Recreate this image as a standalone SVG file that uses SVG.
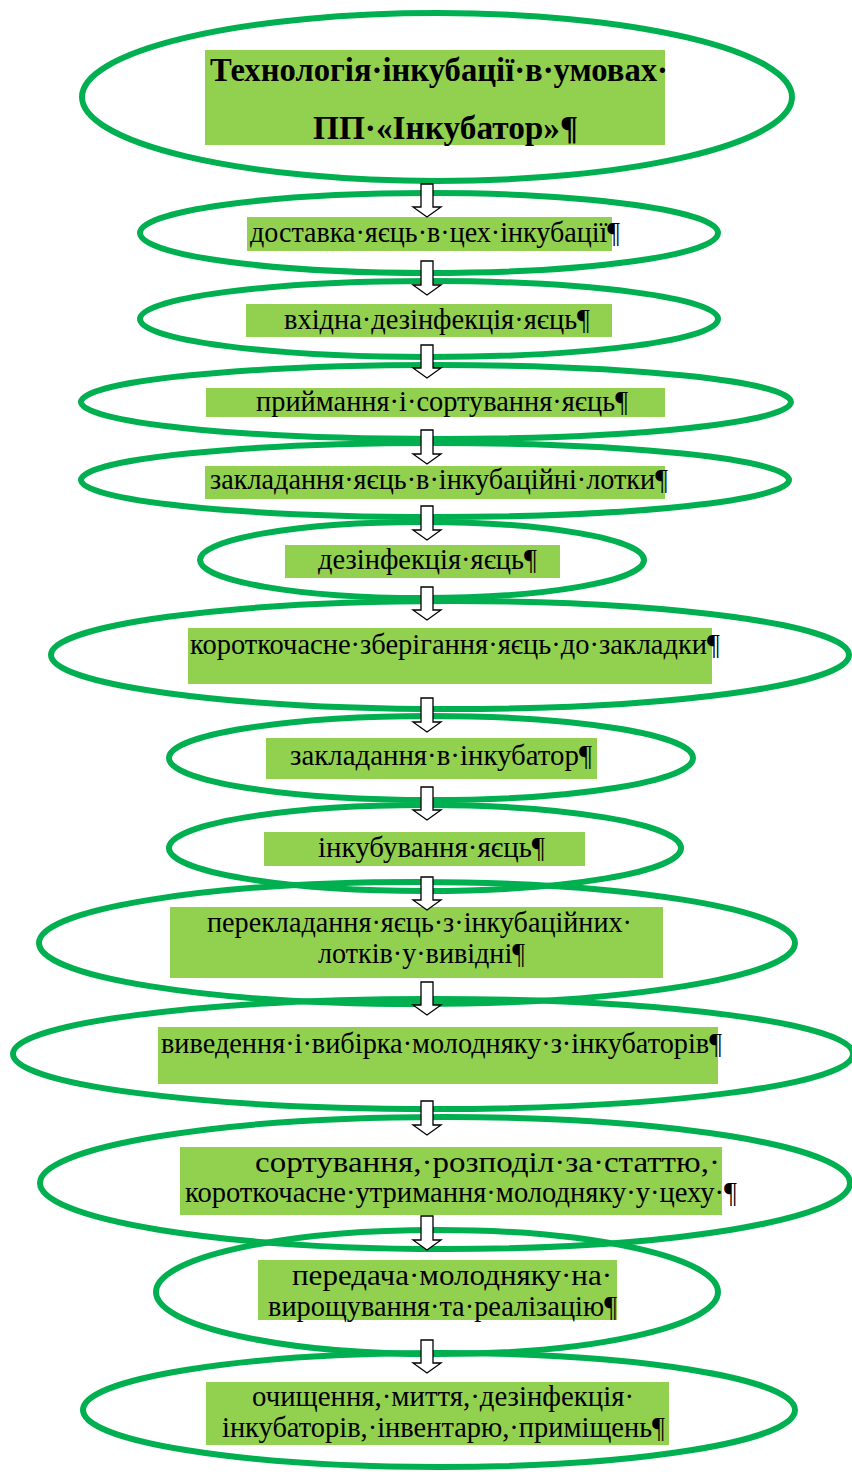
<svg xmlns="http://www.w3.org/2000/svg" width="852" height="1472" viewBox="0 0 852 1472">
<style>
.el{fill:none;stroke:#00B050;stroke-width:6}
.bx{fill:#92D050}
.t{font-family:"Liberation Serif","Times New Roman",serif;font-size:30px;fill:#000}
.tb{font-family:"Liberation Serif","Times New Roman",serif;font-size:34px;font-weight:bold;fill:#000}
.ar{fill:#fff;stroke:#000;stroke-width:1.3}
</style>
<rect width="852" height="1472" fill="#fff"/>
<g id="n1"><ellipse class="el" cx="437" cy="97" rx="355" ry="84"/><rect class="bx" x="205" y="50" width="460" height="95"/>
<text class="tb" x="210" y="81" textLength="458" lengthAdjust="spacingAndGlyphs">Технологія·інкубації·в·умовах·</text>
<text class="tb" x="313" y="139" textLength="265" lengthAdjust="spacingAndGlyphs">ПП·«Інкубатор»¶</text></g>
<g id="n2"><ellipse class="el" cx="429" cy="233" rx="289" ry="40"/><rect class="bx" x="247" y="217" width="365" height="34"/>
<text class="t" x="250" y="242" textLength="370" lengthAdjust="spacingAndGlyphs">доставка·яєць·в·цех·інкубації¶</text></g>
<g id="n3"><ellipse class="el" cx="429" cy="319" rx="289" ry="38"/><rect class="bx" x="246" y="304" width="366" height="33"/>
<text class="t" x="284" y="329" textLength="306" lengthAdjust="spacingAndGlyphs">вхідна·дезінфекція·яєць¶</text></g>
<g id="n4"><ellipse class="el" cx="436" cy="402" rx="355" ry="37"/><rect class="bx" x="206" y="388" width="459" height="29"/>
<text class="t" x="256" y="411" textLength="372" lengthAdjust="spacingAndGlyphs">приймання·і·сортування·яєць¶</text></g>
<g id="n5"><ellipse class="el" cx="435" cy="480" rx="354" ry="37"/><rect class="bx" x="205" y="466" width="460" height="33"/>
<text class="t" x="210" y="489" textLength="458" lengthAdjust="spacingAndGlyphs">закладання·яєць·в·інкубаційні·лотки¶</text></g>
<g id="n6"><ellipse class="el" cx="422" cy="560" rx="222" ry="38"/><rect class="bx" x="285" y="545" width="275" height="33"/>
<text class="t" x="318" y="569" textLength="219" lengthAdjust="spacingAndGlyphs">дезінфекція·яєць¶</text></g>
<g id="n7"><ellipse class="el" cx="450" cy="655" rx="399" ry="54"/><rect class="bx" x="188" y="628" width="524" height="56"/>
<text class="t" x="190" y="654" textLength="530" lengthAdjust="spacingAndGlyphs">короткочасне·зберігання·яєць·до·закладки¶</text></g>
<g id="n8"><ellipse class="el" cx="431" cy="758" rx="262" ry="42"/><rect class="bx" x="266" y="738" width="331" height="41"/>
<text class="t" x="290" y="765" textLength="302" lengthAdjust="spacingAndGlyphs">закладання·в·інкубатор¶</text></g>
<g id="n9"><ellipse class="el" cx="425" cy="848" rx="256" ry="43"/><rect class="bx" x="264" y="832" width="321" height="34"/>
<text class="t" x="318" y="857" textLength="227" lengthAdjust="spacingAndGlyphs">інкубування·яєць¶</text></g>
<g id="n10"><ellipse class="el" cx="417" cy="943" rx="378" ry="61"/><rect class="bx" x="170" y="907" width="493" height="71"/>
<text class="t" x="207" y="932" textLength="425" lengthAdjust="spacingAndGlyphs">перекладання·яєць·з·інкубаційних·</text>
<text class="t" x="318" y="963" textLength="207" lengthAdjust="spacingAndGlyphs">лотків·у·вивідні¶</text></g>
<g id="n11"><ellipse class="el" cx="433" cy="1054" rx="420" ry="55"/><rect class="bx" x="158" y="1027" width="560" height="57"/>
<text class="t" x="161" y="1053" textLength="561" lengthAdjust="spacingAndGlyphs">виведення·і·вибірка·молодняку·з·інкубаторів¶</text></g>
<g id="n12"><ellipse class="el" cx="445" cy="1183" rx="405" ry="66"/><rect class="bx" x="180" y="1147" width="542" height="68"/>
<text class="t" x="255" y="1172" textLength="465" lengthAdjust="spacingAndGlyphs">сортування,·розподіл·за·статтю,·</text>
<text class="t" x="185" y="1202" textLength="552" lengthAdjust="spacingAndGlyphs">короткочасне·утримання·молодняку·у·цеху·¶</text></g>
<g id="n13"><ellipse class="el" cx="437" cy="1292" rx="281" ry="62"/><rect class="bx" x="258" y="1260" width="359" height="60"/>
<text class="t" x="292" y="1285" textLength="320" lengthAdjust="spacingAndGlyphs">передача·молодняку·на·</text>
<text class="t" x="268" y="1316" textLength="349" lengthAdjust="spacingAndGlyphs">вирощування·та·реалізацію¶</text></g>
<g id="n14"><ellipse class="el" cx="439" cy="1410" rx="356" ry="57"/><rect class="bx" x="206" y="1382" width="463" height="63"/>
<text class="t" x="252" y="1406" textLength="382" lengthAdjust="spacingAndGlyphs">очищення,·миття,·дезінфекція·</text>
<text class="t" x="222" y="1437" textLength="443" lengthAdjust="spacingAndGlyphs">інкубаторів,·інвентарю,·приміщень¶</text></g>
<g id="connectors">
<path class="ar" d="M421,184H433V207H441L427,217L413,207H421Z"/>
<path class="ar" d="M421,261H433V285H441L427,295L413,285H421Z"/>
<path class="ar" d="M421,345H433V368H441L427,378L413,368H421Z"/>
<path class="ar" d="M421,430H433V454H441L427,464L413,454H421Z"/>
<path class="ar" d="M421,506H433V530H441L427,540L413,530H421Z"/>
<path class="ar" d="M421,587H433V610H441L427,620L413,610H421Z"/>
<path class="ar" d="M421,698H433V722H441L427,732L413,722H421Z"/>
<path class="ar" d="M421,787H433V810H441L427,820L413,810H421Z"/>
<path class="ar" d="M421,877H433V900H441L427,910L413,900H421Z"/>
<path class="ar" d="M421,982H433V1005H441L427,1015L413,1005H421Z"/>
<path class="ar" d="M421,1101H433V1125H441L427,1135L413,1125H421Z"/>
<path class="ar" d="M421,1216H433V1240H441L427,1250L413,1240H421Z"/>
<path class="ar" d="M421,1340H433V1363H441L427,1373L413,1363H421Z"/>
</g>
</svg>
